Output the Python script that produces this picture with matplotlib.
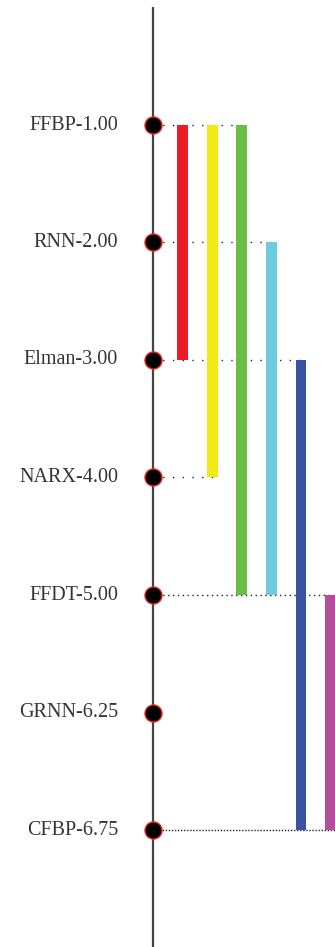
import matplotlib
matplotlib.use("Agg")
import matplotlib.pyplot as plt

# ---- data ----
methods = ["FFBP", "RNN", "Elman", "NARX", "FFDT", "GRNN", "CFBP"]
avg_ranks = [1.00, 2.00, 3.00, 4.00, 5.00, 6.25, 6.75]
# groups of methods not significantly different: (first index, last index)
clique_start = [0, 0, 0, 1, 2, 4]
clique_end = [2, 3, 4, 4, 6, 6]
clique_colors = ["#ed1c24", "#f2ea13", "#6abd45", "#6ccbdc", "#3953a4", "#b54f9d"]

# ---- styles ----
W, H, DPI = 335, 947, 100
px_row = 117.5      # vertical pixels per method
px_col = 29.6       # horizontal pixels per clique column
axis_px_x = 153
first_px_y = 125
bar_w = 0.37
label_gap = 1.18

fig = plt.figure(figsize=(W / DPI, H / DPI), dpi=DPI)
ax = fig.add_axes([0, 0, 1, 1])
ax.set_xlim(-axis_px_x / px_col, (W - axis_px_x) / px_col)
ax.set_ylim((H - first_px_y) / px_row, -first_px_y / px_row)
ax.axis("off")

n = len(methods)
ys = list(range(n))

# vertical axis line
ax.plot([0, 0], [-1.0, (H - first_px_y) / px_row], color="#444444", lw=1.6, zorder=2,
        solid_capstyle="butt")

# cliques as bars
xs = [k + 1 for k in range(len(clique_start))]
ax.bar(xs, [e - s for s, e in zip(clique_start, clique_end)], bottom=clique_start,
       width=bar_w, color=clique_colors, zorder=3)

# dotted connectors from each method to the farthest bar touching it
dens = {4: (0, (1, 2.5)), 6: (0, (1, 1.2))}
for i in ys:
    reach = [x for x, s, e in zip(xs, clique_start, clique_end) if s == i or e == i]
    if reach:
        ax.plot([0, max(reach) + bar_w / 2], [i, i], color="#222222", lw=1.0,
                linestyle=dens.get(i, (0, (1, 6))), zorder=1)

# points
ax.scatter([0] * n, ys, s=150, color="black", edgecolors="#ee2222", linewidths=1.0, zorder=4)

# labels
for i, (m, r) in zip(ys, zip(methods, avg_ranks)):
    ax.text(-label_gap, i, f"{m}-{r:.2f}", ha="right", va="center",
            fontsize=14.5, family="Liberation Serif", color="#333333")

fig.savefig("out.png", dpi=DPI, facecolor="white")
